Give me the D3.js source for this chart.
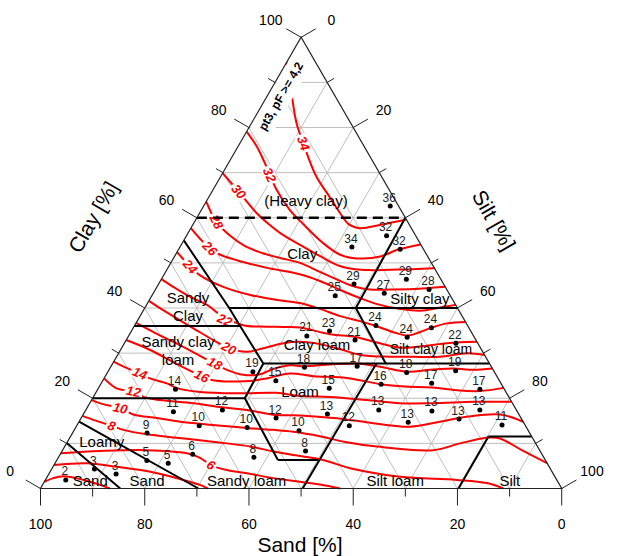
<!DOCTYPE html>
<html><head><meta charset="utf-8">
<script src="https://cdn.jsdelivr.net/npm/d3@7"></script>
<style>body{margin:0;background:#fff}svg{display:block}text{font-family:"Liberation Sans",Arial,sans-serif}</style>
</head><body><svg id="c" width="618" height="556"></svg>
<script>
// ---------- DATA (ternary: [clay %, silt %]) ----------
const tickValues = [0,10,20,30,40,50,60,70,80,90,100];
const labelValues = [0,20,40,60,80,100];

const c34=[[94.5,0],[91.6,1.9],[88.8,3.7],[86.1,5.3],[80.6,8.9],[76.5,12.2],[73.5,14.6],[69.1,18.4],[64.4,23.4],[61,27],[58.6,29.8],[57.7,32.4],[58.4,35.9],[59.3,39.3],[59.6,40.4]];
const c32=[[79.1,0],[75.8,3.6],[72.1,7.0],[66.2,12.2],[61.7,17],[58.6,21.1],[54.4,27],[51.8,31.6],[51,35.2],[51.4,39.5],[52.9,42],[54.1,45.9]];
const c30=[[69.9,0],[65.8,5.1],[61,11],[58.4,14.8],[56.2,18.4],[54,22.8],[51.5,27.9],[49.3,32.8],[48.6,36],[48.4,39],[48.5,42.8],[48.6,47.1],[48.8,51.2]];
const c28=[[63.6,0],[59.1,4.2],[56,8.4],[53.7,12.4],[52.2,16.4],[51.1,20.4],[50,24.8],[48,29.6],[46,34.5],[44.7,38],[44.1,41.2],[44.1,45],[44.2,49.4],[44.7,55.3]];
const c26=[[57.7,0],[55.3,3],[53.2,5.9],[51.8,8.6],[50.2,13.8],[48.9,19],[47.5,26],[46,30.6],[44,35.5],[42.2,40.2],[40.7,44.8],[39.8,49.1],[39.4,53.1],[40.1,56.6],[40.7,59.3]];
const c24=[[52.4,0],[49.2,4.1],[47.3,6.9],[44.7,12.7],[42.9,18.8],[41.8,24.5],[41.1,29.2],[39.8,33.7],[38.2,38.4],[37.1,42.7],[36,46.4],[34.5,50.8],[33.9,53.6],[34.7,55.5],[35.7,57.3],[36.6,59.7],[36.9,63.1]];
const c22=[[46.4,0],[44.7,3.1],[42.5,7.4],[40.7,11.6],[38.5,15.2],[36.2,20.8],[35.9,24.2],[35.8,28.7],[35.7,32],[34.2,38.4],[33.6,43.6],[32.2,49],[31.2,53.4],[31.5,57.1],[32.2,61.9],[32.5,67.5]];
const c20=[[41.6,0],[39.3,4.2],[35.5,11.6],[32.9,16.7],[31.1,20.6],[30.3,24.4],[31.1,27.2],[32.2,30.5],[32.5,33.6],[32,37.6],[30.9,42],[29.6,46.5],[29.2,52.5],[29.2,56.9],[29.2,62],[30,66.8],[29.6,70.4]];
const c18=[[36.7,0],[34.5,4.7],[31.4,11.7],[29.4,15.9],[27.7,19.6],[26.3,22.6],[25.2,26.3],[25.3,29.5],[26.5,31.4],[27.3,34.2],[27.1,37],[27.5,41.8],[27.7,46.9],[27,51.6],[25.9,57.3],[26.3,61.6],[26.6,65.9],[26.3,69.9],[26.6,73.4]];
const c16=[[32.9,0],[30.7,5.7],[27.8,11.9],[24.9,18.5],[24,21.1],[23.7,25.2],[23.8,28.3],[24.4,31.2],[25.5,35.1],[24.9,39.9],[24.5,46.5],[23.1,53.8],[22.6,58.6],[22.4,63.9],[21.7,69.6],[21.6,73.5],[22.3,77.7]];
const c14=[[28.1,0],[26.9,2.7],[25.5,6.3],[24.4,8.8],[23.3,12.6],[22.3,14.9],[21.4,19.9],[21.1,27.7],[21.2,34.6],[20.5,39.5],[20.3,45.4],[19.6,52.8],[18.9,59.5],[18.9,65.9],[19.2,73.5],[19.2,80.8]];
const c12=[[24.4,0],[22.2,3.5],[21.5,7.1],[20.3,9.6],[19.6,13.1],[18.9,19.9],[18,25.8],[17.4,30.9],[16.3,37],[16.2,41.7],[15.6,48.4],[14.7,55.2],[13.7,64],[14.8,69.2],[15.9,73.8],[16.4,80],[14.8,85.2]];
const c10=[[19.6,0],[18.7,2.6],[17.8,6.4],[16.4,9.6],[15.6,14.5],[14.8,19.4],[14.2,24.8],[13.7,30.1],[13.3,34.2],[13,38.2],[12.6,42.2],[11.6,47.8],[10.3,53.3],[9.3,59.9],[8.5,71.1],[10,75.5],[11.3,80.2],[11.1,82.6],[8.5,88.1],[5.6,94.4]];
const c8=[[16.1,0],[15.1,2.9],[13.9,6.7],[13,9.4],[12,14.4],[11.3,19.9],[10.7,25.2],[10,30.7],[9.3,35.6],[8.2,40.6],[7.4,44.8],[6.5,50.4],[4.3,57.9],[2.6,67.7],[1.9,78.9],[1.2,85],[0,88.8]];
const c6=[[7.8,0],[8.3,7.3],[8.5,16.1],[7.8,24.2],[6.8,27.2],[5.2,30.1],[4.1,33.7],[3.4,37.9],[2.3,43.5],[1.5,49],[0.9,53.2],[0,57.5]];
const c4=[[5.2,0],[5.6,6.1],[4.8,12.3],[3.7,19.2],[2.1,25.7],[0.8,30.2],[0,32.1]];
const c2=[[1.5,0],[2.3,1.3],[2.7,3],[1.9,7.3],[0.8,11],[0,13.3]];

const contourLevels=[34,32,30,28,26,24,22,20,18,16,14,12,10,8,6,4,2];
const contourLines=[c34,c32,c30,c28,c26,c24,c22,c20,c18,c16,c14,c12,c10,c8,c6,c4,c2];
// label anchor [clay, silt] (null = no label)
const contourLabelAt=[[76.5,12.2],[69.5,9.2],[65.8,5.1],[59.1,4.2],[53.2,5.9],[49.2,4.1],[37.3,16.7],[31.1,20.6],[27.7,19.6],[24.9,18.5],[25.5,6.3],[21.5,7.1],[17.8,6.4],[13.9,6.7],[5.2,30.1],null,null];

// texture class boundaries
const classLines=[
 [[55,0],[40,16.2],[36,20.3],[27.7,28.9]],
 [[36,0],[36,20.3]],
 [[40,16.2],[40,60]],
 [[27.7,28.9],[27.7,72.3]],
 [[27.7,28.9],[20,29.2]],
 [[20,0],[20,29.2]],
 [[20,29.2],[6.3,42.4]],
 [[6.3,42.4],[6.3,50.1]],
 [[0,50.3],[27.7,50.6]],
 [[40,40.5],[27.7,52.4]],
 [[40,40.5],[60,40]],
 [[0,80.2],[11.5,80.2]],
 [[11.5,80.2],[11.5,88.5]],
 [[0,15.3],[10.1,0]],
 [[0,30.3],[14.8,0]]
];
const heavyClayLine=[[60,0],[60,40]];

// sample points [clay, silt, value]
const samplePoints=[
 [62.6,35.8,36],[56,38.4,32],[53,42.5,32],[53.5,33,34],[45.3,37.5,29],[46.4,47,29],[44.1,52.5,28],[43.3,44.3,27],[42.7,35.2,25],
 [36.1,46.3,24],[35.6,57.2,24],[33.5,53.6,24],[32.2,63.6,22],[34.9,38,23],[33.8,34.2,21],[32.9,43.9,21],
 [25.9,27.8,19],[26.9,37.2,18],[27.1,47.2,17],[25.7,57.4,18],[26.1,66.6,19],[23.9,33.2,15],[22.2,44.3,15],[23.1,53.8,16],
 [23.3,63.4,17],[22,73.3,17],[22,14.9,14],[17.4,26.2,12],[17,17,11],[13.9,23.5,10],[13.5,32.9,10],[12.3,14.3,9],
 [15.6,37.4,12],[12.8,43.2,10],[6.9,37.5,8],[8.3,46.7,8],[7.6,25.4,6],[6.2,17.3,5],[5.6,21.7,5],[4.3,8.2,3],[3.2,12.9,3],[1.9,3.9,2],
 [16.5,46.8,13],[17.4,56.2,13],[17.2,66.5,13],[17.4,75.6,13],[14.7,63.2,13],[15.4,72.6,13],[13.9,52.3,12],[14.1,81.5,11]
];

// class names [text lines, clay, silt, font size]
const classNames=[
 [["(Heavy clay)"],63.9,19,15],[["Clay"],52,24.2,15],[["Sandy","Clay"],40.4,8.1,15],[["Sandy clay","loam"],30.6,11.1,15],
 [["Clay loam"],31.9,37.1,15],[["Silty clay"],42.2,51.7,15],[["Silt clay loam"],31.0,59.4,14],[["Loam"],21.6,39,15],
 [["Loamy"],10.5,6.5,15],[["Sand"],1.7,19.6,15],[["Sand"],1.7,8.7,15],[["Sandy loam"],1.7,38.7,15],[["Silt loam"],1.7,67.2,15],[["Silt"],1.7,89.2,15]
];
const noteText="pt3, pF >= 4,2";
const notePos=[86.7,3.1];

// ---------- DRAWING ----------
const svg=d3.select('#c');
const uScale=d3.scaleLinear().domain([0,100]).range([40.5,561.7]);
const clayScale=d3.scaleLinear().domain([0,100]).range([488.5,37.3]);
const P=(clay,silt)=>[uScale(silt+clay/2),clayScale(clay)];

const g=svg.append('g');
// grid
const gridG=g.append('g').attr('stroke','#bfbfbf').attr('stroke-width',1);
for(const v of d3.range(10,100,10)){
  let a=P(v,0),b=P(v,100-v); gridG.append('line').attr('x1',a[0]).attr('y1',a[1]).attr('x2',b[0]).attr('y2',b[1]);
  a=P(0,v);b=P(100-v,v); gridG.append('line').attr('x1',a[0]).attr('y1',a[1]).attr('x2',b[0]).attr('y2',b[1]);
  a=P(0,100-v);b=P(100-v,0); gridG.append('line').attr('x1',a[0]).attr('y1',a[1]).attr('x2',b[0]).attr('y2',b[1]);
}

// contours
const lineGen=d3.line().x(d=>P(d[0],d[1])[0]).y(d=>P(d[0],d[1])[1]).curve(d3.curveCatmullRom.alpha(0.5));
const cg=g.append('g');
contourLines.forEach(pts=>{
  cg.append('path').attr('d',lineGen(pts)).attr('fill','none').attr('stroke','#ff0000').attr('stroke-width',2);
});
// contour labels
const lg=g.append('g');
contourLabelAt.forEach((lp,i)=>{
  if(!lp)return;
  const pts=contourLines[i].map(d=>P(d[0],d[1]));
  const q=P(lp[0],lp[1]);
  let best=1e9,ang=0;
  for(let k=0;k<pts.length-1;k++){
    const a=pts[k],b=pts[k+1];
    const dx=b[0]-a[0],dy=b[1]-a[1];
    let t=((q[0]-a[0])*dx+(q[1]-a[1])*dy)/(dx*dx+dy*dy);t=Math.max(0,Math.min(1,t));
    const px=a[0]+t*dx,py=a[1]+t*dy,dd=(px-q[0])**2+(py-q[1])**2;
    if(dd<best){best=dd;ang=Math.atan2(dy,dx)*180/Math.PI;}
  }
  if(ang>90)ang-=180;if(ang<-90)ang+=180;
  const gg=lg.append('g').attr('transform',`translate(${q[0]},${q[1]}) rotate(${ang})`);
  const r=gg.append('rect').attr('fill','#fff');
  const t=gg.append('text').text(contourLevels[i]).attr('text-anchor','middle').attr('dominant-baseline','central')
    .attr('font-size',13).attr('font-weight','bold').attr('font-style','italic').attr('fill','#ff0000');
  const w=t.node().getComputedTextLength();
  r.attr('x',-w/2-2).attr('y',-6).attr('width',w+4).attr('height',12);
});

// class boundaries
const bl=d3.line().x(d=>P(d[0],d[1])[0]).y(d=>P(d[0],d[1])[1]);
classLines.forEach(l=>g.append('path').attr('d',bl(l)).attr('fill','none').attr('stroke','#000').attr('stroke-width',2));
g.append('path').attr('d',bl(heavyClayLine)).attr('fill','none').attr('stroke','#000').attr('stroke-width',2.5).attr('stroke-dasharray','10,6');

// note with white box
{
  const q=P(notePos[0],notePos[1]);
  const ng=g.append('g').attr('transform',`translate(${q[0]},${q[1]}) rotate(-60)`);
  ng.append('rect').attr('x',-42).attr('y',-13).attr('width',84).attr('height',22).attr('fill','#fff');
  ng.append('text').text(noteText).attr('x',0).attr('y',-2).attr('text-anchor','middle').attr('dominant-baseline','central')
    .attr('font-size',12).attr('font-weight','bold').attr('fill','#000');
}

// triangle outline
const tri=[P(0,0),P(0,100),P(100,0)];
g.append('path').attr('d','M'+tri.map(p=>p.join(',')).join('L')+'Z').attr('fill','none').attr('stroke','#222').attr('stroke-width',1.2);

// ticks & labels
const tg=g.append('g').attr('stroke','#222').attr('stroke-width',1);
const txt=g.append('g').attr('font-size',14).attr('fill','#000').attr('text-anchor','middle').attr('dominant-baseline','central');
const nL=[-Math.sqrt(3)/2,-0.5], nR=[Math.sqrt(3)/2,-0.5];
tickValues.forEach(v=>{
  const len=(v%20===0)?17:8;
  let p=P(v,0); tg.append('line').attr('x1',p[0]).attr('y1',p[1]).attr('x2',p[0]+nL[0]*len).attr('y2',p[1]+nL[1]*len);
  p=P(100-v,v); tg.append('line').attr('x1',p[0]).attr('y1',p[1]).attr('x2',p[0]+nR[0]*len).attr('y2',p[1]+nR[1]*len);
  p=P(0,100-v); tg.append('line').attr('x1',p[0]).attr('y1',p[1]).attr('x2',p[0]).attr('y2',p[1]+len);
});
labelValues.forEach(v=>{
  const d=35;
  let p=P(v,0); txt.append('text').attr('x',p[0]+nL[0]*d).attr('y',p[1]+nL[1]*d).text(v);
  p=P(100-v,v); txt.append('text').attr('x',p[0]+nR[0]*d).attr('y',p[1]+nR[1]*d).text(v);
  p=P(0,100-v); txt.append('text').attr('x',p[0]).attr('y',p[1]+d).text(v);
});

// sample points
const pg=g.append('g');
samplePoints.forEach(d=>{
  const p=P(d[0],d[1]);
  pg.append('circle').attr('cx',p[0]).attr('cy',p[1]).attr('r',2.5).attr('fill','#000');
  pg.append('text').attr('x',p[0]-1).attr('y',p[1]-4.5).attr('text-anchor','middle').attr('font-size',12).attr('fill','#222').text(d[2]);
});

// class names
const ng2=g.append('g').attr('fill','#000').attr('text-anchor','middle');
classNames.forEach(c=>{
  const p=P(c[1],c[2]);const n=c[0].length;
  c[0].forEach((s,i)=>{
    ng2.append('text').attr('x',p[0]).attr('y',p[1]+(i-(n-1)/2)*18).attr('dominant-baseline','central').attr('font-size',c[3]).text(s);
  });
});

// axis titles
g.append('text').attr('x',300).attr('y',544).attr('text-anchor','middle').attr('dominant-baseline','central').attr('font-size',21).text('Sand [%]');
g.append('text').attr('transform','translate(93,217) rotate(-60)').attr('text-anchor','middle').attr('dominant-baseline','central').attr('font-size',21).text('Clay [%]');
g.append('text').attr('transform','translate(494,220) rotate(60)').attr('text-anchor','middle').attr('dominant-baseline','central').attr('font-size',21).text('Silt [%]');
</script></body></html>
